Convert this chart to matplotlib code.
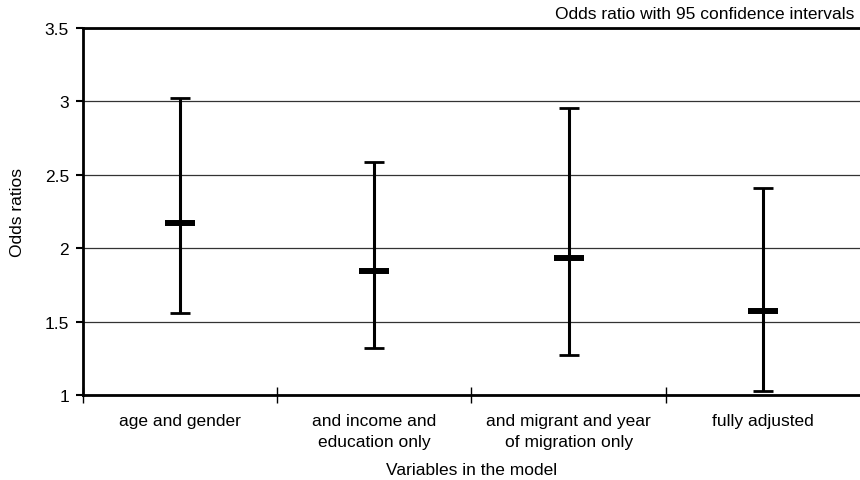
import numpy as np
import matplotlib
matplotlib.use("Agg")
from matplotlib import pyplot as plt

# data
categories = ["age and gender", "and income and\neducation only",
              "and migrant and year\nof migration only", "fully adjusted"]
odds = [2.17, 1.845, 1.935, 1.57]
lower = [1.56, 1.32, 1.27, 1.025]
upper = [3.02, 2.59, 2.955, 2.41]

plt.rcParams['font.family'] = ['Liberation Sans', 'DejaVu Sans']
plt.rcParams['font.size'] = 12.5

fig = plt.figure(figsize=(8.6, 4.81), dpi=100)
ax = fig.add_axes([0.0965, 0.1767, 0.9035, 0.763])

x = np.arange(len(categories))
odds = np.array(odds)
yerr = [odds - np.array(lower), np.array(upper) - odds]

ax.errorbar(x, odds, yerr=yerr, fmt='none', ecolor='black', elinewidth=2.2,
            capsize=7.5, capthick=2, zorder=3)
ax.plot(x, odds, linestyle='none', marker='_', markersize=22,
        markeredgewidth=4.3, color='black', zorder=4)

ax.set_xlim(-0.5, len(categories) - 0.5)
ax.set_ylim(1, 3.5)
ax.set_yticks([1, 1.5, 2, 2.5, 3, 3.5])
ax.set_yticklabels(["1", "1.5", "2", "2.5", "3", "3.5"])
ax.yaxis.grid(True, color='#333333', linewidth=0.9)
ax.set_axisbelow(True)

ax.set_xticks(x)
ax.set_xticklabels(categories, linespacing=1.5)
ax.tick_params(axis='x', length=0, pad=13)
ax.set_xticks(np.arange(-0.5, len(categories) - 0.5, 1), minor=True)
ax.tick_params(axis='x', which='minor', direction='inout', length=12, width=1)
ax.tick_params(axis='y', direction='out', length=5, width=1.5, pad=5)

ax.spines['right'].set_visible(False)
for s in ['left', 'bottom', 'top']:
    ax.spines[s].set_linewidth(2)

ax.set_xlabel("Variables in the model", labelpad=9)
ax.set_ylabel("Odds ratios", labelpad=14)
fig.text(0.993, 0.985, "Odds ratio with 95 confidence intervals",
         ha='right', va='top')

fig.savefig("out.png", dpi=100)
